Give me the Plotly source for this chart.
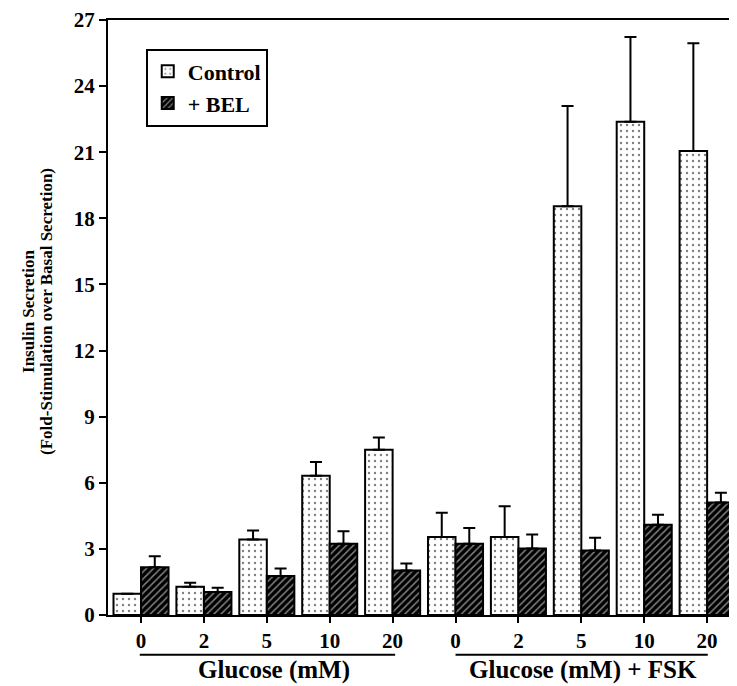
import plotly.graph_objects as go

categories = ["0", "2", "5", "10", "20", "0", "2", "5", "10", "20"]
control_vals = [0.96, 1.28, 3.43, 6.32, 7.50, 3.54, 3.54, 18.55, 22.38, 21.05]
control_err = [0.0, 0.18, 0.40, 0.62, 0.55, 1.10, 1.40, 4.55, 3.85, 4.90]
bel_vals = [2.17, 1.04, 1.77, 3.23, 2.02, 3.23, 3.02, 2.93, 4.10, 5.10]
bel_err = [0.50, 0.20, 0.34, 0.57, 0.32, 0.72, 0.63, 0.57, 0.45, 0.45]
group_labels = ["Glucose (mM)", "Glucose (mM) + FSK"]
y_title_lines = ["Insulin Secretion", "(Fold-Stimulation over Basal Secretion)"]
y_ticks = [0, 3, 6, 9, 12, 15, 18, 21, 24, 27]

xpos = list(range(len(categories)))
FONT = "Liberation Serif"

fig = go.Figure()
fig.add_trace(go.Bar(
    x=xpos, y=control_vals, name="<b>Control</b>",
    marker=dict(color="white", line=dict(color="black", width=2),
                pattern=dict(shape=".", fgcolor="black", bgcolor="white", size=6, solidity=0.12)),
    error_y=dict(type="data", symmetric=False, array=control_err,
                 arrayminus=[0] * len(control_err), color="black", thickness=2, width=6),
))
fig.add_trace(go.Bar(
    x=xpos, y=bel_vals, name="<b>+ BEL</b>",
    marker=dict(color="black", line=dict(color="black", width=2),
                pattern=dict(shape="/", fgcolor="white", bgcolor="black", size=5, solidity=0.3)),
    error_y=dict(type="data", symmetric=False, array=bel_err,
                 arrayminus=[0] * len(bel_err), color="black", thickness=2, width=6),
))

fig.update_layout(
    width=729, height=678,
    margin=dict(l=100, r=0, t=10, b=71),
    plot_bgcolor="white", paper_bgcolor="white",
    barmode="group", bargap=0.125, bargroupgap=0,
    font=dict(family=FONT, color="black", size=20),
    showlegend=True,
    legend=dict(x=0.06, y=0.952, xanchor="left", yanchor="top",
                bordercolor="black", borderwidth=2, bgcolor="white",
                font=dict(family=FONT, size=22, color="black"),
                itemwidth=30),
)
fig.update_xaxes(
    range=[-0.525, 9.475], tickmode="array", tickvals=xpos, ticktext=["<b>%s</b>" % c for c in categories],
    showline=True, linecolor="black", linewidth=2, mirror=True,
    ticks="outside", ticklen=6, tickwidth=2, tickcolor="black",
    showgrid=False, zeroline=False, tickfont=dict(size=21), ticklabeloverflow="allow",
)
fig.update_yaxes(
    range=[0, 27], tickmode="array", tickvals=y_ticks, ticktext=["<b>%d</b>" % v for v in y_ticks],
    showline=True, linecolor="black", linewidth=2,
    ticks="outside", ticklen=7, tickwidth=2, tickcolor="black",
    showgrid=False, zeroline=False, tickfont=dict(size=21), ticklabeloverflow="allow",
)

# y-axis title as two rotated lines
for xp, line in [(-0.1256, y_title_lines[0]), (-0.097, y_title_lines[1])]:
    fig.add_annotation(x=xp, y=0.511, xref="paper", yref="paper", text="<b>%s</b>" % line,
                       textangle=-90, showarrow=False, font=dict(size=17, family=FONT, color="black"),
                       xanchor="center", yanchor="middle")

# group underlines and labels
for (x0, x1, xc, label) in [(-0.02, 4.04, 2.12, group_labels[0]), (5.0, 9.01, 7.03, group_labels[1])]:
    fig.add_shape(type="line", xref="x", yref="paper", x0=x0, x1=x1, y0=-0.067, y1=-0.067,
                  line=dict(color="black", width=2))
    fig.add_annotation(x=xc, y=-0.093, xref="x", yref="paper", text="<b>%s</b>" % label,
                       showarrow=False, font=dict(size=25, family=FONT, color="black"),
                       xanchor="center", yanchor="middle")

fig.write_html("out.html")
